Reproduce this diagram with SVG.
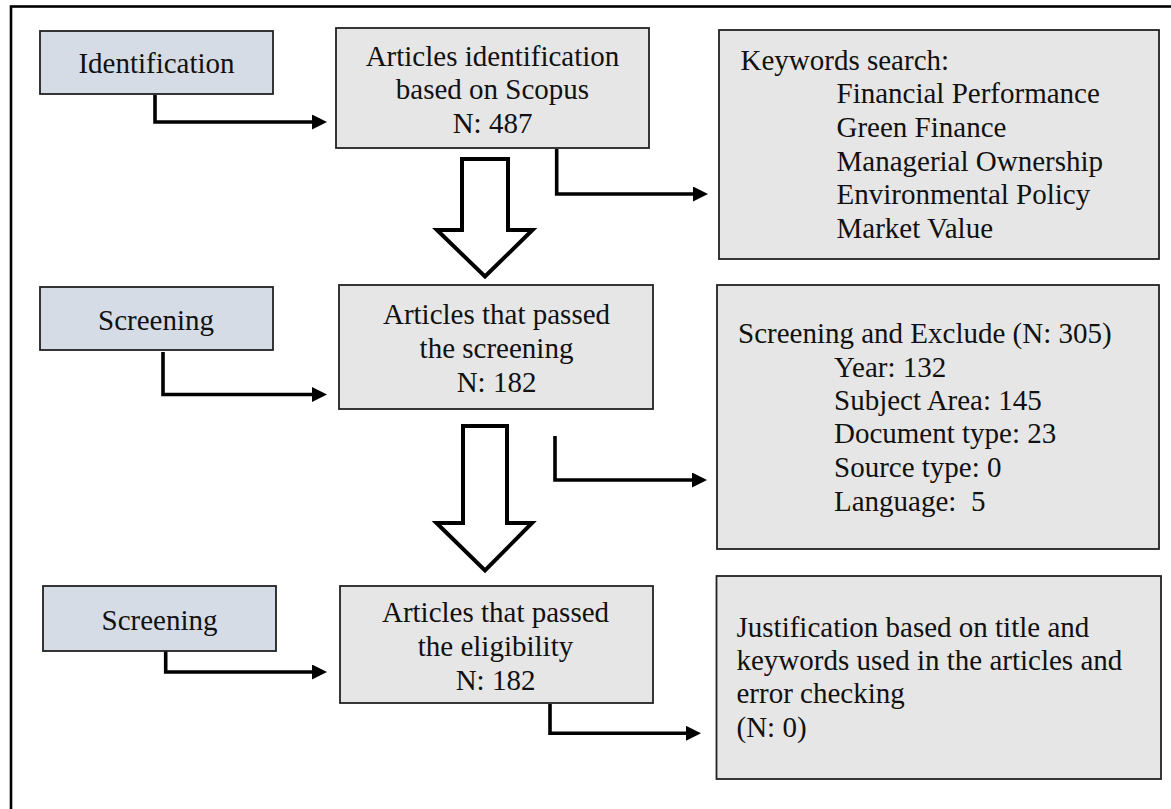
<svg xmlns="http://www.w3.org/2000/svg" width="1171" height="809" viewBox="0 0 1171 809">
<defs>
<style>
text{font-family:"Liberation Serif","Times New Roman",serif;font-size:29px;fill:#111}
.stage{fill:#d6dce5;stroke:#222;stroke-width:1.8}
.box{fill:#e6e6e6;stroke:#222;stroke-width:1.8}
.conn{fill:none;stroke:#000;stroke-width:3.6;marker-end:url(#ah)}
.big{fill:#fff;stroke:#000;stroke-width:4;stroke-linejoin:miter}
.c{text-anchor:middle}
</style>
<marker id="ah" markerUnits="userSpaceOnUse" markerWidth="16" markerHeight="16" refX="1" refY="7.5" orient="auto">
<path d="M0,0 L15,7.5 L0,15 z" fill="#000"/>
</marker>
</defs>
<rect width="1171" height="809" fill="#fff"/>
<rect x="11" y="6.5" width="1180" height="820" fill="none" stroke="#000" stroke-width="2.6"/>

<g id="connectors">
<path class="conn" d="M155,95 V122 H313"/>
<path class="conn" d="M556.7,149 V194 H694"/>
<path class="conn" d="M163,352 V394.5 H313"/>
<path class="conn" d="M555,436 V480 H693"/>
<path class="conn" d="M165.7,651 V672 H313"/>
<path class="conn" d="M550,704 V733.3 H687"/>
<polygon class="big" points="462,159 508,159 508,230 532.5,230 485,276.5 437,230 462,230"/>
<polygon class="big" points="463,426 507,426 507,523 532,523 485,570.5 436.5,523 463,523"/>
</g>

<g id="identification">
<rect class="stage" x="40" y="31" width="233" height="63"/>
<text class="c" x="156.5" y="73">Identification</text>
</g>
<g id="screening1">
<rect class="stage" x="40" y="287" width="233" height="63"/>
<text class="c" x="156" y="330">Screening</text>
</g>
<g id="screening2">
<rect class="stage" x="43" y="586" width="233" height="65"/>
<text class="c" x="159.5" y="630">Screening</text>
</g>

<g id="articles-identification">
<rect class="box" x="336" y="28" width="313" height="120"/>
<text class="c" x="492.5" y="65.5">Articles identification</text>
<text class="c" x="492.5" y="99">based on Scopus</text>
<text class="c" x="492.5" y="133">N: 487</text>
</g>
<g id="articles-screening">
<rect class="box" x="339" y="285" width="314" height="124"/>
<text class="c" x="496.5" y="324">Articles that passed</text>
<text class="c" x="496.5" y="358">the screening</text>
<text class="c" x="496.5" y="391.5">N: 182</text>
</g>
<g id="articles-eligibility">
<rect class="box" x="340" y="586" width="313" height="117"/>
<text class="c" x="495.5" y="622">Articles that passed</text>
<text class="c" x="495.5" y="656">the eligibility</text>
<text class="c" x="495.5" y="690">N: 182</text>
</g>

<g id="keywords">
<rect class="box" x="719" y="30" width="440" height="229"/>
<text x="740.5" y="70">Keywords search:</text>
<text x="836.5" y="103.3">Financial Performance</text>
<text x="836.5" y="137.3">Green Finance</text>
<text x="836.5" y="170.8">Managerial Ownership</text>
<text x="836.5" y="204.3">Environmental Policy</text>
<text x="836.5" y="238.3">Market Value</text>
</g>
<g id="exclude">
<rect class="box" x="717" y="285" width="442" height="264"/>
<text x="738" y="343.3">Screening and Exclude (N: 305)</text>
<text x="834" y="376.7">Year: 132</text>
<text x="834" y="410">Subject Area: 145</text>
<text x="834" y="443.3">Document type: 23</text>
<text x="834" y="476.7">Source type: 0</text>
<text x="834" y="511" xml:space="preserve">Language:  5</text>
</g>
<g id="justification">
<rect class="box" x="716.5" y="576" width="444.5" height="203"/>
<text x="736.5" y="636.7">Justification based on title and</text>
<text x="736.5" y="670">keywords used in the articles and</text>
<text x="736.5" y="703.3">error checking</text>
<text x="736.5" y="737.3">(N: 0)</text>
</g>
</svg>
